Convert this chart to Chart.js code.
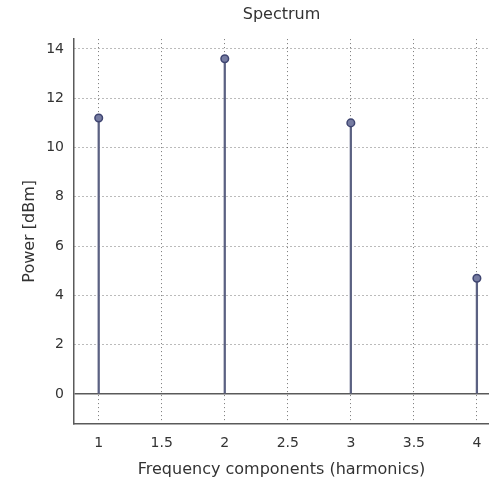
<!DOCTYPE html>
<html>
<head>
<meta charset="utf-8">
<script src="https://cdn.jsdelivr.net/npm/chart.js@4/dist/chart.umd.min.js"></script>
<style>
  html, body { margin: 0; padding: 0; background: #fff; overflow: hidden; }
  #wrap { width: 489px; height: 481px; overflow: hidden; }
</style>
</head>
<body>
<div id="wrap"><canvas id="spectrum" width="495" height="481"></canvas></div>
<script>
// Harmonic spectrum: one stem per harmonic, power in dBm
const harmonics = [1, 2, 3, 4];
const powerDbm = [11.2, 13.6, 11.0, 4.7];

// Axis ticks and labels
const xTicks = [1, 1.5, 2, 2.5, 3, 3.5, 4];
const xTickLabels = ['1', '1.5', '2', '2.5', '3', '3.5', '4'];
const yTicks = [0, 2, 4, 6, 8, 10, 12, 14];
const yTickLabels = ['0', '2', '4', '6', '8', '10', '12', '14'];

// Axis limits
const xRange = [0.8, 4.1];
const yRange = [-1.2, 14.4];

// Text
const chartTitle = 'Spectrum';
const xTitle = 'Frequency components (harmonics)';
const yTitle = 'Power [dBm]';

const FONT = '"DejaVu Sans", "Liberation Sans", sans-serif';
const TEXT = '#333';
const AXIS = '#5a5a5a';
const GRID = 'rgba(60,60,60,0.7)';
const STEM = '#5b6182';

const points = harmonics.map((h, i) => ({ x: h, y: powerDbm[i] }));

// Title centred over the plotting area
const titlePlugin = {
  id: 'plotTitle',
  afterDraw(chart) {
    const { ctx, chartArea } = chart;
    ctx.save();
    ctx.font = '16px ' + FONT;
    ctx.fillStyle = TEXT;
    ctx.textAlign = 'center';
    ctx.textBaseline = 'middle';
    ctx.fillText(chartTitle, (chartArea.left + chartArea.right) / 2, 15);
    ctx.restore();
  }
};

new Chart(document.getElementById('spectrum'), {
  data: {
    datasets: [
      {
        type: 'bar',
        data: points,
        backgroundColor: STEM,
        borderWidth: 0,
        barThickness: 1.6,
        order: 2
      },
      {
        type: 'scatter',
        data: points,
        pointStyle: 'circle',
        pointRadius: 3.8,
        pointBackgroundColor: '#767ca2',
        pointBorderColor: '#3f4571',
        pointBorderWidth: 1.5,
        order: 1
      }
    ]
  },
  options: {
    responsive: false,
    animation: false,
    devicePixelRatio: 1,
    layout: { padding: { top: 39.1, left: 0, right: 0, bottom: 0 } },
    plugins: {
      legend: { display: false },
      tooltip: { enabled: false },
      title: { display: false }
    },
    scales: {
      x: {
        type: 'linear',
        position: 'bottom',
        offset: false,
        min: xRange[0],
        max: xRange[1],
        afterBuildTicks(scale) { scale.ticks = xTicks.map(v => ({ value: v })); },
        afterFit(scale) { scale.height = 57.4; },
        ticks: {
          autoSkip: false,
          maxRotation: 0,
          padding: 11,
          color: TEXT,
          font: { family: FONT, size: 14 },
          callback: (v) => xTickLabels[xTicks.indexOf(v)]
        },
        grid: {
          offset: false,
          color: GRID,
          lineWidth: 1,
          drawTicks: false
        },
        border: {
          display: true,
          color: AXIS,
          width: 1.5,
          dash: [1, 3]
        },
        title: {
          display: true,
          text: xTitle,
          color: TEXT,
          font: { family: FONT, size: 16 },
          padding: { top: 0, bottom: 2 }
        }
      },
      y: {
        type: 'linear',
        position: 'left',
        min: yRange[0],
        max: yRange[1],
        afterBuildTicks(scale) { scale.ticks = yTicks.map(v => ({ value: v })); },
        afterFit(scale) { scale.width = 73.5; },
        ticks: {
          padding: 9.5,
          color: TEXT,
          font: { family: FONT, size: 14 },
          callback: (v) => yTickLabels[yTicks.indexOf(v)]
        },
        grid: {
          color: (c) => (c.tick && c.tick.value === 0) ? AXIS : GRID,
          lineWidth: (c) => (c.tick && c.tick.value === 0) ? 1.5 : 1,
          drawTicks: false
        },
        border: {
          display: true,
          color: AXIS,
          width: 1.5,
          dash: (c) => (c.tick && c.tick.value === 0) ? [] : [1, 3]
        },
        title: {
          display: true,
          text: yTitle,
          color: TEXT,
          font: { family: FONT, size: 16 },
          padding: { top: 20.4, bottom: 0 }
        }
      }
    }
  },
  plugins: [titlePlugin]
});
</script>
</body>
</html>
